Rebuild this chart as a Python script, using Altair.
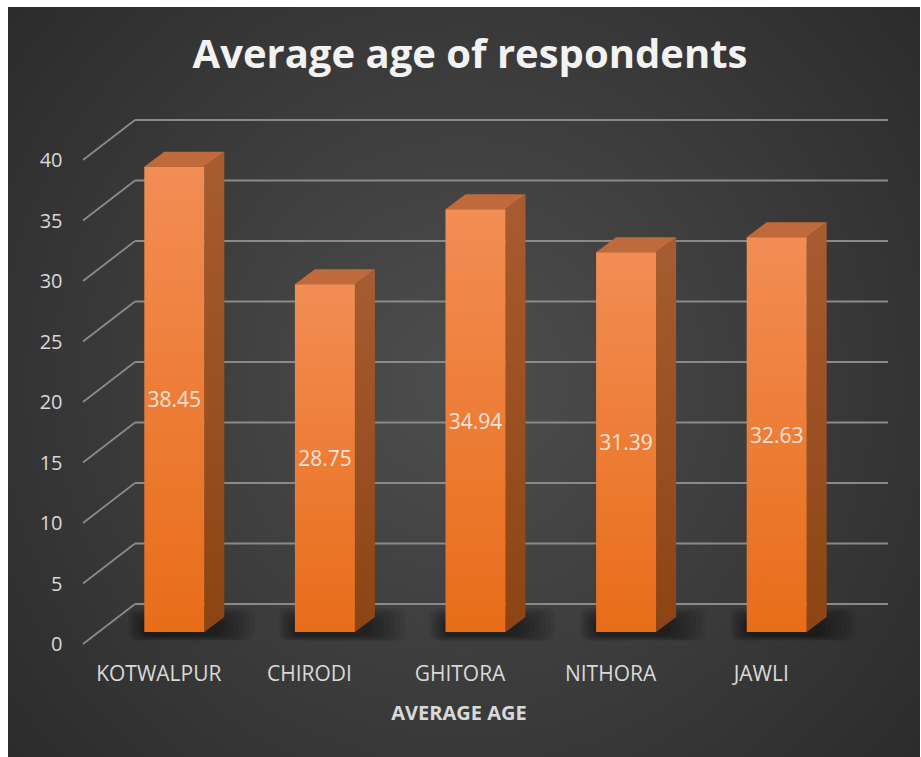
import json
import altair as alt
import pandas as pd

# ---- data ----
categories = ["KOTWALPUR", "CHIRODI", "GHITORA", "NITHORA", "JAWLI"]
values = [38.45, 28.75, 34.94, 31.39, 32.63]
y_ticks = [0, 5, 10, 15, 20, 25, 30, 35, 40]
title_text = "Average age of respondents"
x_title = "AVERAGE AGE"

# ---- layout / 3D style constants (pixels) ----
W, H = 753, 484
X_DOMAIN = [-0.5, len(categories) - 0.5]
Y_DOMAIN = [0, 40]
STEP = W / len(categories)             # px per category index
PXU = H / (Y_DOMAIN[1] - Y_DOMAIN[0])  # px per y unit
BAR_HALF = 30                          # half front-face width, px
DEPTH_X, DEPTH_Y = 20, 15              # bar depth, px

hw = BAR_HALF / STEP
ddx = DEPTH_X / STEP
ddy = DEPTH_Y / PXU

bars = pd.DataFrame({"cat": categories, "idx": list(range(len(categories))), "val": values})

side_rows, top_rows = [], []
for i, (c, v) in enumerate(zip(categories, values)):
    side_rows.append({"cat": c, "sx": i + hw, "lo": 0.0, "hi": v})
    side_rows.append({"cat": c, "sx": i + hw + ddx, "lo": ddy, "hi": v + ddy})
    top_rows.append({"cat": c, "ty": v, "xl": i - hw, "xr": i + hw})
    top_rows.append({"cat": c, "ty": v + ddy, "xl": i - hw + ddx, "xr": i + hw + ddx})
side_df = pd.DataFrame(side_rows)
top_df = pd.DataFrame(top_rows)
grid_df = pd.DataFrame({"t": y_ticks})

xs = alt.Scale(domain=X_DOMAIN, nice=False, zero=False)
ys = alt.Scale(domain=Y_DOMAIN, nice=False, zero=False)

FONT = "Open Sans"
LABEL_COLOR = "#D9D9D9"

# background panel with radial gradient
bg = alt.Chart(pd.DataFrame({"a": [0]})).mark_rect(
    fill=alt.RadialGradient(
        gradient="radial",
        stops=[alt.GradientStop(offset=0, color="#4e4e4e"),
               alt.GradientStop(offset=1, color="#262626")],
        x1=0.5, y1=0.5, r1=0, x2=0.5, y2=0.5, r2=0.75,
    )
).encode(x=alt.value(-91), x2=alt.value(821), y=alt.value(-141), y2=alt.value(609))

# back-wall gridlines
grid = alt.Chart(grid_df).mark_rule(
    color="#8a8a8a", strokeWidth=1.8, xOffset=36, x2Offset=36, yOffset=-28, y2Offset=-28
).encode(
    x=alt.X(datum=X_DOMAIN[0], scale=xs),
    x2=alt.X2(datum=X_DOMAIN[1]),
    y=alt.Y("t:Q", scale=ys),
)

# side-wall diagonals
diag = alt.Chart(grid_df).mark_rule(
    color="#8a8a8a", strokeWidth=1.8, xOffset=-16, x2Offset=36, yOffset=12, y2Offset=-28
).encode(
    x=alt.X(datum=X_DOMAIN[0], scale=xs),
    x2=alt.X2(datum=X_DOMAIN[0]),
    y=alt.Y("t:Q", scale=ys),
    y2="t:Q",
)

# soft floor shadow: stacked translucent rounded rects
def shadow_layer(x_off, x2_off, y_off, y2_off, op):
    return alt.Chart(bars).mark_rect(
        color="#000000", opacity=op, cornerRadius=8,
        xOffset=x_off, x2Offset=x2_off, yOffset=y_off, y2Offset=y2_off,
    ).encode(
        x=alt.X("idx:Q", scale=xs),
        x2="idx:Q",
        y=alt.Y(datum=0, scale=ys),
        y2=alt.Y2(datum=0),
    )

shadow_specs = [
    (-46, 80, 9, -24),
    (-44, 75, 8, -22),
    (-42, 70, 8, -21),
    (-40, 65, 7, -19),
    (-37, 59, 6, -18),
    (-35, 54, 5, -16),
    (-33, 49, 5, -15),
    (-32, 45, 4, -14),
]
shadows = [shadow_layer(a, b, c, d, 0.065) for a, b, c, d in shadow_specs]

side = alt.Chart(side_df).mark_area(
    orient="vertical",
    color=alt.LinearGradient(
        gradient="linear",
        stops=[alt.GradientStop(offset=0, color="#A85C31"),
               alt.GradientStop(offset=1, color="#8C4414")],
        x1=0, y1=0, x2=0, y2=1,
    ),
).encode(
    x=alt.X("sx:Q", scale=xs),
    y=alt.Y("hi:Q", scale=ys),
    y2="lo:Q",
    detail="cat:N",
)

top = alt.Chart(top_df).mark_area(orient="horizontal", color="#C06A3B").encode(
    y=alt.Y("ty:Q", scale=ys),
    x=alt.X("xl:Q", scale=xs),
    x2="xr:Q",
    detail="cat:N",
)

label_expr = json.dumps(categories) + "[datum.value]"

front = alt.Chart(bars).mark_rect(
    color=alt.LinearGradient(
        gradient="linear",
        stops=[alt.GradientStop(offset=0, color="#F28D54"),
               alt.GradientStop(offset=1, color="#E86D19")],
        x1=0, y1=0, x2=0, y2=1,
    ),
    xOffset=-BAR_HALF, x2Offset=BAR_HALF,
).encode(
    x=alt.X("idx:Q", scale=xs, axis=alt.Axis(
        values=list(range(len(categories))), labelExpr=label_expr, zindex=2,
        grid=False, domain=False, ticks=False, tickSize=0, labelFlush=False,
        labelOverlap=False, labelPadding=48, labelBaseline="alphabetic",
        labelOffset=-16, labelFontSize=21, labelFont=FONT, labelColor=LABEL_COLOR,
        title=x_title, titleFont=FONT, titleFontSize=20, titleFontWeight="bold",
        titleColor=LABEL_COLOR, titleX=W / 2 - 17, titleY=87,
        titleBaseline="alphabetic", titleAlign="center",
    )),
    x2="idx:Q",
    y=alt.Y("val:Q", scale=ys, axis=alt.Axis(
        values=y_ticks, grid=False, domain=False, ticks=False, tickSize=0, zindex=2,
        labelPadding=37, labelBaseline="alphabetic", labelOffset=18.5,
        labelFontSize=20, labelFont=FONT, labelColor=LABEL_COLOR, title=None,
        labelFlush=False, labelOverlap=False,
    )),
    y2=alt.Y2(datum=0),
)

labels = alt.Chart(bars).transform_calculate(mid="datum.val / 2").mark_text(
    font=FONT, fontSize=21, color="#F4E4DA", baseline="alphabetic", dy=8, align="center"
).encode(
    x=alt.X("idx:Q", scale=xs),
    y=alt.Y("mid:Q", scale=ys),
    text=alt.Text("val:Q", format=".2f"),
)

title = alt.Chart(pd.DataFrame({"t": [title_text]})).mark_text(
    font=FONT, fontSize=40, fontWeight="bold", color="#F2F2F2",
    align="center", baseline="alphabetic",
).encode(x=alt.value(371), y=alt.value(-80), text="t:N")

chart = alt.layer(
    bg, grid, diag, *shadows, side, top, front, labels, title
).properties(
    width=W, height=H,
    background="white",
    padding={"left": 99, "top": 148, "right": 921 - 99 - W, "bottom": 757 - 148 - H},
    autosize=alt.AutoSizeParams(type="none"),
).configure_view(stroke=None)

chart.save("out.html", embed_options={"renderer": "svg", "actions": False})
